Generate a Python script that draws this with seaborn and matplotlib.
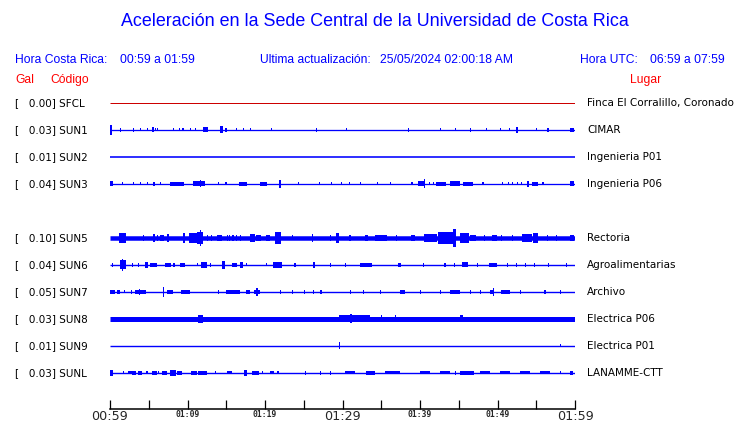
import matplotlib
matplotlib.use("Agg")
import matplotlib.pyplot as plt
import seaborn as sns

# --- data -------------------------------------------------------------
title = "Aceleración en la Sede Central de la Universidad de Costa Rica"
hora_cr = "00:59 a 01:59"
hora_utc = "06:59 a 07:59"
actualizacion = "25/05/2024 02:00:18 AM"

codes = ["SFCL", "SUN1", "SUN2", "SUN3", "SUN5", "SUN6", "SUN7", "SUN8", "SUN9", "SUNL"]
gal = [0.00, 0.03, 0.01, 0.04, 0.10, 0.04, 0.05, 0.03, 0.01, 0.03]
places = ["Finca El Corralillo, Coronado", "CIMAR", "Ingenieria P01", "Ingenieria P06",
          "Rectoria", "Agroalimentarias", "Archivo", "Electrica P06", "Electrica P01",
          "LANAMME-CTT"]

# background noise thickness of each trace (px)
base_px = [1.0, 1.3, 1.6, 1.3, 4.5, 1.4, 1.4, 5.0, 1.4, 1.4]

# bursts per trace: (start minute, end minute, half amplitude px)
bursts_sfcl = []
bursts_sun1 = [(0.0, 0.3, 5), (1.3, 1.45, 2), (3.0, 3.15, 2), (3.9, 4.05, 1.5), (4.8, 4.95, 1.5),
               (5.4, 5.7, 2.5), (5.75, 5.9, 1.5), (6.1, 6.25, 1.5), (8.1, 8.2, 1.5), (8.85, 9.0, 1.5),
               (9.35, 9.5, 1.5), (10.3, 10.45, 1.5), (11.0, 11.15, 1.5), (12.0, 12.6, 2.5),
               (14.2, 14.6, 3.5), (14.9, 15.0, 2), (16.2, 16.3, 1.5), (17.1, 17.2, 1.5),
               (18.0, 18.1, 1.5), (20.8, 20.9, 1.5), (26.6, 26.7, 2), (30.5, 30.6, 1.5),
               (38.5, 38.6, 2), (42.6, 42.7, 1.5), (44.5, 44.6, 1.5), (46.4, 46.6, 2),
               (48.5, 48.6, 1.5), (50.3, 50.4, 1.5), (51.5, 51.6, 1.5), (52.4, 52.6, 3),
               (55.0, 55.1, 1.5), (56.4, 56.6, 2), (59.4, 59.9, 2)]
bursts_sun2 = []
bursts_sun3 = [(0.0, 0.4, 2.5), (1.5, 1.6, 1.5), (3.0, 3.1, 1.5), (3.9, 4.0, 1.5), (4.8, 4.9, 1.5),
               (5.6, 5.8, 2), (6.5, 6.6, 1.5), (7.8, 9.6, 2), (10.7, 12.2, 2.5), (11.6, 11.8, 3.5),
               (13.9, 14.0, 1.5), (14.9, 15.1, 1.5), (16.7, 17.7, 2), (19.3, 20.2, 2),
               (21.8, 22.0, 4), (24.2, 24.3, 1.5), (27.0, 27.1, 1.5), (28.5, 28.7, 1.5),
               (29.8, 29.9, 1.5), (30.8, 31.0, 1.5), (32.3, 32.4, 1.5), (34.5, 34.6, 1.5),
               (36.1, 36.2, 1.5), (38.9, 39.0, 1.5), (39.8, 40.5, 2.5), (40.5, 40.7, 4.5),
               (41.1, 41.2, 1.5), (41.7, 41.8, 1.5), (42.0, 43.3, 2), (43.9, 45.2, 2.5),
               (45.6, 46.8, 2), (48.0, 48.2, 1.5), (50.6, 50.7, 1.5), (51.3, 51.4, 1.5),
               (51.9, 52.0, 1.5), (52.5, 52.6, 1.5), (53.0, 53.1, 1.5), (53.8, 54.0, 3),
               (54.4, 55.2, 2), (55.8, 55.9, 1.5), (59.4, 59.9, 2.5)]
bursts_sun5 = [(1.1, 2.1, 5), (4.2, 4.3, 3), (5.5, 5.8, 4), (6.0, 6.1, 3), (6.5, 7.0, 3),
               (7.4, 7.6, 4), (9.4, 9.7, 5), (10.2, 11.2, 5), (11.2, 12.0, 6), (11.6, 11.8, 8),
               (12.5, 12.6, 3), (13.0, 13.1, 3), (13.8, 14.4, 3), (15.1, 15.2, 3), (15.4, 15.5, 3),
               (15.8, 15.9, 3), (16.2, 16.3, 3), (16.8, 16.9, 3), (18.1, 18.7, 4), (18.9, 19.5, 3),
               (20.1, 20.6, 3), (21.3, 22.0, 6), (23.5, 23.6, 2.5), (26.0, 26.2, 4),
               (28.4, 28.5, 3), (29.1, 29.6, 5), (30.9, 31.0, 3), (32.9, 33.3, 3),
               (34.2, 35.8, 3), (36.9, 37.0, 3), (38.8, 39.4, 3), (40.5, 42.2, 4),
               (42.3, 44.5, 6), (44.3, 44.6, 9), (45.2, 46.3, 5), (46.5, 47.2, 3),
               (48.2, 48.3, 3), (49.3, 49.9, 3), (50.5, 50.6, 3), (51.9, 52.0, 3),
               (53.2, 54.5, 4), (54.6, 55.2, 5), (56.4, 56.5, 3), (57.6, 57.7, 3), (59.4, 59.9, 3)]
bursts_sun6 = [(0.2, 0.4, 2), (1.3, 2.0, 4.5), (1.6, 1.7, 6), (2.8, 2.9, 2), (3.6, 3.7, 2),
               (4.5, 4.9, 3), (5.2, 6.0, 2), (7.1, 7.9, 2), (8.1, 8.4, 2), (9.0, 9.7, 2),
               (11.2, 11.3, 1.5), (11.8, 12.5, 3), (12.9, 13.0, 2), (14.5, 14.8, 4),
               (15.8, 16.4, 2), (16.8, 17.1, 3), (17.6, 17.7, 1.5), (20.1, 20.2, 1.5),
               (21.0, 22.2, 3), (23.8, 23.9, 2), (26.2, 26.4, 3), (28.4, 28.5, 2),
               (30.3, 30.4, 2), (32.2, 33.8, 2), (37.1, 37.6, 2), (40.4, 40.5, 2),
               (43.1, 43.3, 2), (44.4, 44.5, 2), (45.4, 46.2, 2.5), (47.4, 47.5, 2),
               (48.9, 49.9, 2), (51.2, 51.3, 2), (52.4, 52.5, 2), (53.5, 53.7, 2),
               (54.7, 54.8, 2), (56.5, 56.6, 2), (58.8, 58.9, 2)]
bursts_sun7 = [(0.0, 0.7, 2), (0.9, 1.3, 2), (1.8, 1.9, 1.5), (2.7, 2.8, 2), (3.2, 4.7, 2),
               (3.7, 3.9, 3), (6.8, 6.9, 5), (7.4, 8.1, 2), (9.2, 10.3, 2), (13.9, 14.0, 2),
               (15.0, 16.8, 2), (17.6, 18.1, 2), (18.6, 19.4, 2), (18.9, 19.0, 4),
               (21.9, 22.0, 2), (23.5, 23.6, 2), (25.0, 25.2, 2), (26.2, 26.3, 2),
               (27.1, 27.3, 2), (31.0, 31.1, 2), (32.6, 32.7, 2), (34.8, 34.9, 2),
               (37.4, 38.1, 2), (40.0, 40.1, 2), (42.6, 42.7, 2), (43.9, 45.2, 2),
               (46.5, 46.6, 2), (47.7, 47.9, 2), (49.0, 49.5, 2), (49.4, 49.5, 4),
               (50.4, 51.6, 2), (52.9, 53.0, 2), (56.0, 56.2, 2), (58.0, 58.1, 2)]
bursts_sun8 = [(11.4, 12.0, 4), (29.5, 33.5, 3.5), (31.0, 31.2, 4.5), (35.0, 35.1, 3.5),
               (36.8, 36.9, 3.5), (45.2, 45.6, 3.5)]
bursts_sun9 = [(29.6, 29.7, 3.5), (58.0, 58.1, 1.5)]
bursts_sunl = [(0.0, 0.35, 3), (1.7, 1.8, 1.5), (2.3, 2.8, 1.5), (2.9, 3.4, 2), (3.6, 4.1, 2),
               (4.7, 4.8, 1.5), (5.4, 6.0, 2), (6.2, 6.3, 1.5), (6.7, 7.3, 2), (7.8, 8.5, 3),
               (8.7, 9.3, 2), (10.5, 11.2, 2), (11.4, 12.5, 2), (13.6, 13.7, 1.5),
               (15.1, 15.7, 1.5), (17.3, 17.7, 3), (18.3, 19.2, 2), (19.6, 19.8, 1.5),
               (20.6, 21.1, 1.5), (21.5, 21.8, 1.5), (25.2, 25.3, 2), (27.1, 27.2, 2),
               (28.4, 28.5, 2), (30.3, 31.6, 1.5), (33.0, 34.2, 2), (35.5, 37.4, 1.5),
               (40.0, 41.3, 1.5), (42.6, 43.9, 1.5), (44.5, 44.6, 2), (45.2, 47.0, 2),
               (47.7, 49.0, 1.5), (50.3, 51.6, 1.5), (52.9, 54.2, 1.5), (55.5, 56.8, 1.5),
               (58.0, 58.1, 1.5), (59.4, 59.8, 2)]
bursts = [bursts_sfcl, bursts_sun1, bursts_sun2, bursts_sun3, bursts_sun5,
          bursts_sun6, bursts_sun7, bursts_sun8, bursts_sun9, bursts_sunl]

tick_minutes = list(range(0, 61, 5))
tick_labels = ["00:59", "", "01:09", "", "01:19", "", "01:29", "", "01:39", "", "01:49", "", "01:59"]

# --- figure -----------------------------------------------------------
W, H = 740, 423
BLUE = "#0000ff"
RED = "#ff0000"
sns.set_style("white")
fig = plt.figure(figsize=(W / 100, H / 100), dpi=100)


def px(x, y):
    return x / W, 1 - y / H


fig.text(*px(375, 22), title, color=BLUE, fontsize=12.9, family="Liberation Sans",
         ha="center", va="center")
hdr = dict(color=BLUE, fontsize=8.7, family="Liberation Sans", va="center")
fig.text(*px(15, 60), "Hora Costa Rica:", **hdr)
fig.text(*px(120, 60), hora_cr, **hdr)
fig.text(*px(260, 60), "Ultima actualización:", **hdr)
fig.text(*px(380, 60), actualizacion, **hdr)
fig.text(*px(580, 60), "Hora UTC:", **hdr)
fig.text(*px(650, 60), hora_utc, **hdr)
red = dict(color=RED, fontsize=8.7, family="Liberation Sans", va="center")
fig.text(*px(15, 80), "Gal", **red)
fig.text(*px(50, 80), "Código", **red)
fig.text(*px(630, 80), "Lugar", **red)

ax = fig.add_axes([110 / W, 0, 465 / W, 1])
ax.set_xlim(0, 60)
ax.set_ylim(H, 0)
ax.axis("off")

lbl = dict(fontsize=7.5, family="DejaVu Sans", color="black", va="center")
for i, code in enumerate(codes):
    y = 103 + 27 * (i + (i >= 4))  # SUN4 row is left empty
    color = "#cc0000" if code == "SFCL" else BLUE
    ax.hlines(y, 0, 60, color=color, lw=base_px[i] * 0.72)
    for s, e, a in bursts[i]:
        ax.bar(s, 2 * a, bottom=y - a, width=max(e - s, 0.14), align="edge",
               color=color, linewidth=0)
    fig.text(*px(15, y), f"[   {gal[i]:.2f}] {code}", **lbl)
    fig.text(*px(587, y), places[i], **lbl)

# time axis
axt = fig.add_axes([110 / W, (H - 409) / H, 465 / W, 12 / H])
axt.set_facecolor("none")
axt.set_xlim(0, 60)
axt.set_yticks([])
sns.despine(ax=axt, left=True, top=True, right=True)
axt.spines["bottom"].set_linewidth(1.1)
axt.spines["bottom"].set_color("black")
axt.set_xticks(tick_minutes)
axt.set_xticklabels(tick_labels)
axt.tick_params(axis="x", bottom=True, direction="in", length=6.5, width=0.9,
                color="black", pad=1)
for t, lab in zip(axt.get_xticklabels(), tick_labels):
    if lab in ("00:59", "01:29", "01:59"):
        t.set_fontsize(9.2)
        t.set_family("DejaVu Sans")
    else:
        t.set_fontsize(5.8)
        t.set_family("DejaVu Sans Mono")
        t.set_fontweight("bold")

fig.savefig("out.png", dpi=100)
